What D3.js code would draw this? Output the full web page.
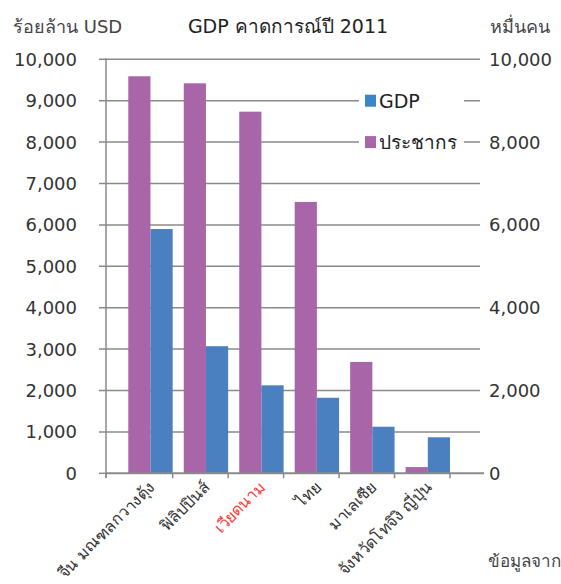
<!DOCTYPE html>
<html>
<head>
<meta charset="utf-8">
<script src="https://cdn.jsdelivr.net/npm/d3@7"></script>
<style>
  body { margin: 0; background: #fff; }
  text { font-family: "DejaVu Sans", "Noto Sans", sans-serif; }
</style>
</head>
<body>
<div id="chart"></div>
<script>
// datos del gráfico
const paises = ["จีน มณฑลกวางตุ้ง", "ฟิลิปปินส์", "เวียดนาม", "ไทย", "มาเลเซีย", "จังหวัดโทจิงิ ญี่ปุ่น"];
const gdp = [5900, 3070, 2125, 1825, 1125, 870];
const poblacion = [9590, 9420, 8735, 6555, 2690, 150];
const ticksIzq = [0, 1000, 2000, 3000, 4000, 5000, 6000, 7000, 8000, 9000, 10000];
const ticksDer = [0, 2000, 4000, 6000, 8000, 10000];
const series = ["GDP", "ประชากร"];

const WIDTH = 561;
const HEIGHT = 584;
const SVG = d3.select("#chart").append("svg").attr("width", WIDTH).attr("height", HEIGHT);

const colorGdp = "#4a7fc0";
const colorPob = "#a866a9";
const gris = "#8a8a8a";
const texto = "#333";

const x0 = 106;
const y = d3.scaleLinear().domain([0, 10000]).range([473.3, 59.3]);
const x = d3.scaleBand().domain(paises).range([128.3, 450]).paddingInner(0.2).paddingOuter(0);
// morado a la izquierda, azul a la derecha
const xs = d3.scaleBand().domain(["ประชากร", "GDP"]).range([0, x.bandwidth()]);

// líneas de grilla
SVG.selectAll("line.grid")
    .data(ticksIzq.slice(1))
    .enter()
    .append("line")
    .attr("x1", x0 - 7).attr("x2", 480)
    .attr("y1", d => y(d)).attr("y2", d => y(d))
    .attr("stroke", gris).attr("stroke-width", 1.5);

// eje izquierdo
SVG.append("line")
    .attr("x1", x0).attr("x2", x0)
    .attr("y1", y(10000) - 1).attr("y2", y(0) + 4)
    .attr("stroke", gris).attr("stroke-width", 1.5);

SVG.selectAll("text.izq")
    .data(ticksIzq)
    .enter()
    .append("text")
    .attr("x", 77)
    .attr("y", d => y(d))
    .attr("dy", "0.36em")
    .attr("text-anchor", "end")
    .attr("font-size", 18)
    .attr("fill", texto)
    .text(d => d3.format(",")(d));

// eje derecho
SVG.selectAll("text.der")
    .data(ticksDer)
    .enter()
    .append("text")
    .attr("x", 489)
    .attr("y", d => y(d))
    .attr("dy", "0.36em")
    .attr("font-size", 18)
    .attr("fill", texto)
    .text(d => d3.format(",")(d));

// barras
const grupos = SVG.selectAll("g.grupo")
    .data(paises)
    .enter()
    .append("g")
    .attr("transform", d => `translate(${x(d)},0)`);

grupos.append("rect")
    .attr("x", xs("ประชากร"))
    .attr("width", xs.bandwidth())
    .attr("y", (d, i) => y(poblacion[i]))
    .attr("height", (d, i) => y(0) - y(poblacion[i]))
    .attr("fill", colorPob);

grupos.append("rect")
    .attr("x", xs("GDP"))
    .attr("width", xs.bandwidth())
    .attr("y", (d, i) => y(gdp[i]))
    .attr("height", (d, i) => y(0) - y(gdp[i]))
    .attr("fill", colorGdp);

// eje inferior
SVG.append("line")
    .attr("x1", x0).attr("x2", 484)
    .attr("y1", y(0)).attr("y2", y(0))
    .attr("stroke", gris).attr("stroke-width", 2);

const ticksX = [x0].concat(paises.map(d => x(d) + x.bandwidth()));
SVG.selectAll("line.tickx")
    .data(ticksX)
    .enter()
    .append("line")
    .attr("x1", d => d).attr("x2", d => d)
    .attr("y1", y(0)).attr("y2", y(0) + 5)
    .attr("stroke", gris).attr("stroke-width", 1.5);

SVG.append("line")
    .attr("x1", x0 - 7).attr("x2", x0)
    .attr("y1", y(0)).attr("y2", y(0))
    .attr("stroke", gris).attr("stroke-width", 1.5);

// etiquetas x
SVG.selectAll("text.pais")
    .data(paises)
    .enter()
    .append("text")
    .attr("transform", d => `translate(${x(d) + x.bandwidth() / 2 + 5},${y(0) + 15}) rotate(-45)`)
    .attr("text-anchor", "end")
    .attr("font-size", 16)
    .attr("fill", d => d === "เวียดนาม" ? "#ff3b3b" : texto)
    .text(d => d);

// leyenda
const leyenda = SVG.append("g");
leyenda.append("rect")
    .attr("x", 359).attr("y", 86).attr("width", 105).attr("height", 70)
    .attr("fill", "#fff");

leyenda.selectAll("rect.cuadro")
    .data(series)
    .enter()
    .append("rect")
    .attr("x", 365)
    .attr("y", (d, i) => y(9000) - 6 + i * 41.4)
    .attr("width", 11).attr("height", 12)
    .attr("fill", d => d === "GDP" ? "#3a86c8" : colorPob);

leyenda.selectAll("text.serie")
    .data(series)
    .enter()
    .append("text")
    .attr("x", 379)
    .attr("y", (d, i) => y(9000) + i * 41.4)
    .attr("dy", "0.36em")
    .attr("font-size", 19)
    .attr("fill", "#222")
    .text(d => d);

// títulos
SVG.append("text")
    .attr("x", 288).attr("y", 33)
    .attr("text-anchor", "middle")
    .attr("font-size", 19)
    .attr("font-weight", 500)
    .attr("fill", "#222")
    .text("GDP คาดการณ์ปี 2011");

SVG.append("text")
    .attr("x", 13).attr("y", 33)
    .attr("font-size", 18)
    .attr("fill", "#444")
    .text("ร้อยล้าน USD");

SVG.append("text")
    .attr("x", 490).attr("y", 33)
    .attr("font-size", 18)
    .attr("fill", "#444")
    .text("หมื่นคน");

SVG.append("text")
    .attr("x", 488).attr("y", 567)
    .attr("font-size", 17)
    .attr("fill", "#444")
    .text("ข้อมูลจาก");
</script>
</body>
</html>
